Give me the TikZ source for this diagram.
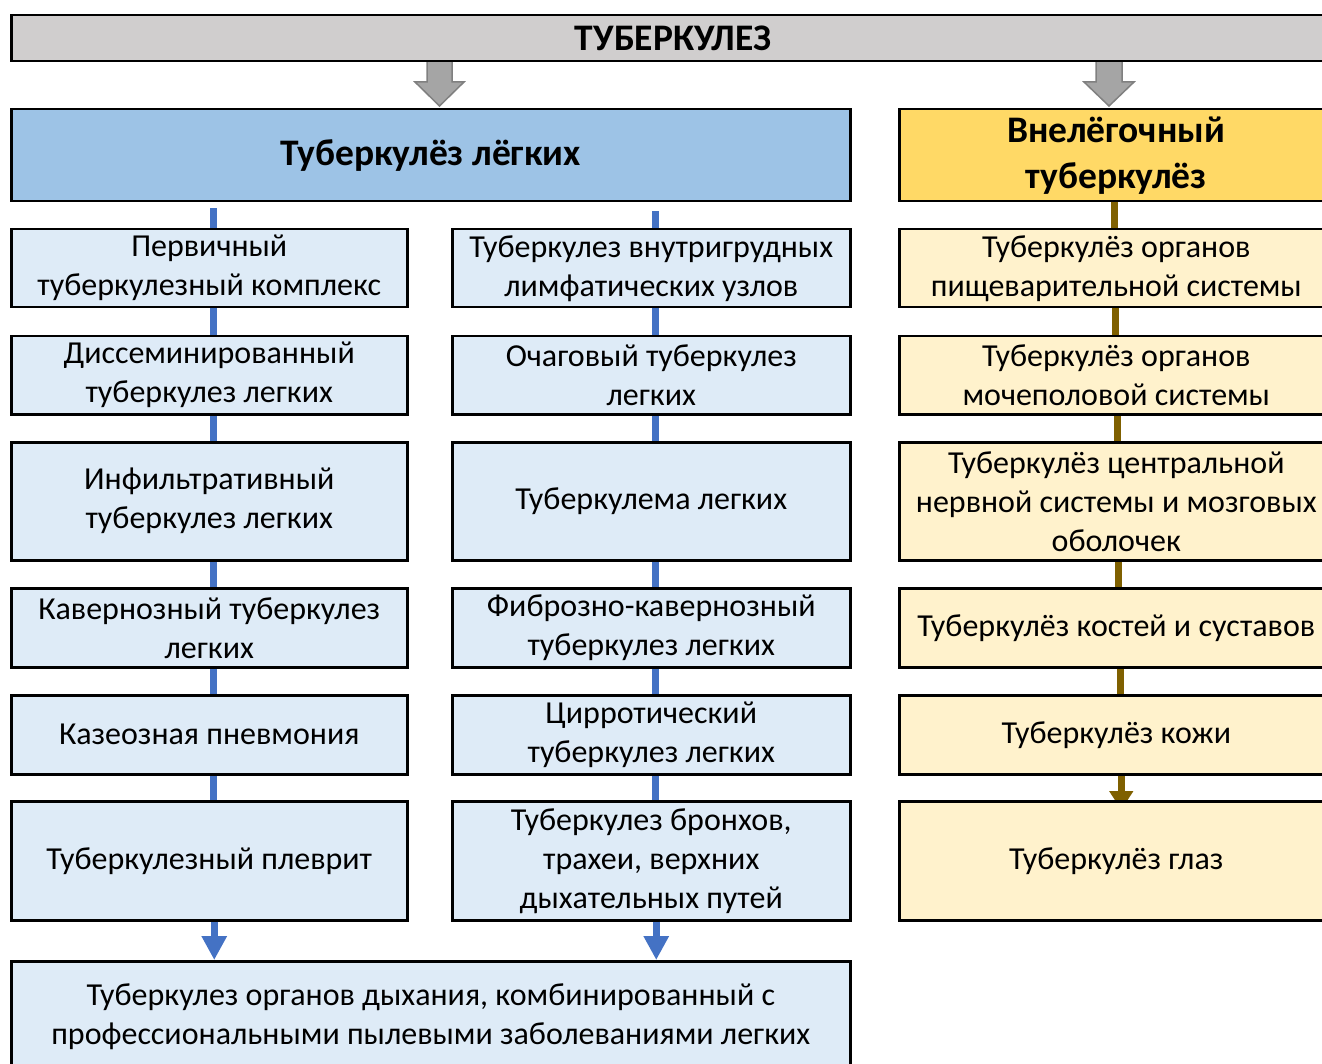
\documentclass[tikz,border=0pt]{standalone}
\usepackage{fontspec}
\setmainfont{Carlito}
\usepackage{tikz}
\usetikzlibrary{arrows.meta, positioning, backgrounds, calc}
\definecolor{titlegray}{HTML}{D0CECE}
\definecolor{lungblue}{HTML}{9DC3E6}
\definecolor{lungpale}{HTML}{DEEBF7}
\definecolor{extragold}{HTML}{FFD966}
\definecolor{extrapale}{HTML}{FFF2CC}
\definecolor{linkblue}{HTML}{4472C4}
\definecolor{linkbrown}{HTML}{7F6000}
\definecolor{arrowgray}{HTML}{A5A5A5}
\definecolor{arrowedge}{HTML}{808080}
\tikzset{
  basebox/.style={
    rectangle, anchor=north west, inner sep=0pt,
    align=center, draw=black, line width=2.5pt,
    font=\fontsize{32}{39}\selectfont
  },
  titlebox/.style={
    basebox, fill=titlegray,
    minimum width=1324pt, minimum height=46pt,
    font=\bfseries\fontsize{37.5}{39}\selectfont
  },
  lungbox/.style={
    basebox, fill=lungblue,
    minimum width=839pt, minimum height=92pt,
    font=\bfseries\fontsize{37.5}{46}\selectfont
  },
  extrabox/.style={
    basebox, fill=extragold,
    minimum width=434pt, minimum height=92pt,
    font=\bfseries\fontsize{37.5}{46}\selectfont
  },
  leftbox/.style={basebox, fill=lungpale, minimum width=396pt},
  midbox/.style={basebox, fill=lungpale, minimum width=398pt},
  rightbox/.style={basebox, fill=extrapale, minimum width=434pt},
  bluelink/.style={
    line width=7pt, color=linkblue
  },
  bluearrow/.style={
    -{Triangle[width=24pt, length=24pt]}, line width=7pt, color=linkblue
  },
  brownlink/.style={
    line width=7pt, color=linkbrown
  },
  brownarrow/.style={
    -{Triangle[width=23pt, length=19pt]}, line width=7pt, color=linkbrown
  },
  blockarrow/.style={
    fill=arrowgray, draw=arrowedge, line width=1.5pt, line join=miter
  }
}

\begin{document}
\begin{tikzpicture}[x=1pt, y=-1pt]
  \useasboundingbox (0,0) rectangle (1322,1064);
  \clip (0,0) rectangle (1322,1064);

  % ── Block arrows under the title ──────────────────────────────────────
  \draw[blockarrow] (427,61) -- (452,61) -- (452,82) -- (464,82) -- (439.5,106)
        -- (415,82) -- (427,82) -- cycle;
  \draw[blockarrow] (1096,61) -- (1122,61) -- (1122,82) -- (1134,82) -- (1109,106)
        -- (1084,82) -- (1096,82) -- cycle;

  % ── Title ─────────────────────────────────────────────────────────────
  \node[titlebox] (title) at (10,14) {ТУБЕРКУЛЕЗ};

  % ── Two groups ────────────────────────────────────────────────────────
  \node[lungbox]  (lungs) at (10,108)  {Туберкулёз лёгких};
  \node[extrabox] (extra) at (898,108) {Внелёгочный\\туберкулёз};

  % ── Left column ───────────────────────────────────────────────────────
  \node[leftbox, minimum height=78pt]  (l1) at (10,228) {Первичный\\туберкулезный комплекс};
  \node[leftbox, minimum height=78pt]  (l2) at (10,335) {Диссеминированный\\туберкулез легких};
  \node[leftbox, minimum height=118pt] (l3) at (10,441) {Инфильтративный\\туберкулез легких};
  \node[leftbox, minimum height=79pt]  (l4) at (10,587) {Кавернозный туберкулез\\легких};
  \node[leftbox, minimum height=79pt]  (l5) at (10,694) {Казеозная пневмония};
  \node[leftbox, minimum height=119pt] (l6) at (10,800) {Туберкулезный плеврит};

  % ── Middle column ─────────────────────────────────────────────────────
  \node[midbox, minimum height=78pt]  (m1) at (451,228) {Туберкулез внутригрудных\\лимфатических узлов};
  \node[midbox, minimum height=78pt]  (m2) at (451,335) {Очаговый туберкулез\\легких};
  \node[midbox, minimum height=118pt] (m3) at (451,441) {Туберкулема легких};
  \node[midbox, minimum height=79pt]  (m4) at (451,587) {Фиброзно-кавернозный\\туберкулез легких};
  \node[midbox, minimum height=79pt]  (m5) at (451,694) {Цирротический\\туберкулез легких};
  \node[midbox, minimum height=119pt] (m6) at (451,800) {Туберкулез бронхов,\\трахеи, верхних\\дыхательных путей};

  % ── Right column ──────────────────────────────────────────────────────
  \node[rightbox, minimum height=78pt]  (r1) at (898,228) {Туберкулёз органов\\пищеварительной системы};
  \node[rightbox, minimum height=78pt]  (r2) at (898,335) {Туберкулёз органов\\мочеполовой системы};
  \node[rightbox, minimum height=118pt] (r3) at (898,441) {Туберкулёз центральной\\нервной системы и мозговых\\оболочек};
  \node[rightbox, minimum height=79pt]  (r4) at (898,587) {Туберкулёз костей и суставов};
  \node[rightbox, minimum height=79pt]  (r5) at (898,694) {Туберкулёз кожи};
  \node[rightbox, minimum height=119pt] (r6) at (898,800) {Туберкулёз глаз};

  % ── Bottom ────────────────────────────────────────────────────────────
  \node[basebox, fill=lungpale, minimum width=839pt, minimum height=110pt] (combo) at (10,960)
        {Туберкулез органов дыхания, комбинированный с\\профессиональными пылевыми заболеваниями легких};

  % links — left
  \begin{scope}[on background layer]
    \draw[bluelink, shorten <=6pt] ([xshift=4pt]l1.north |- lungs.south) -- ([xshift=4pt]l1.north);
    \draw[bluelink] ([xshift=4pt]l1.south) -- ([xshift=4pt]l2.north);
    \draw[bluelink] ([xshift=4pt]l2.south) -- ([xshift=4pt]l3.north);
    \draw[bluelink] ([xshift=4pt]l3.south) -- ([xshift=4pt]l4.north);
    \draw[bluelink] ([xshift=4pt]l4.south) -- ([xshift=4pt]l5.north);
    \draw[bluelink] ([xshift=4pt]l5.south) -- ([xshift=4pt]l6.north);
  \end{scope}
  \draw[bluearrow] ([xshift=5pt]l6.south) -- ([xshift=5pt]l6.south |- combo.north);

  % links — middle
  \begin{scope}[on background layer]
    \draw[bluelink, shorten <=9pt] ([xshift=4pt]m1.north |- lungs.south) -- ([xshift=4pt]m1.north);
    \draw[bluelink] ([xshift=4pt]m1.south) -- ([xshift=4pt]m2.north);
    \draw[bluelink] ([xshift=4pt]m2.south) -- ([xshift=4pt]m3.north);
    \draw[bluelink] ([xshift=4pt]m3.south) -- ([xshift=4pt]m4.north);
    \draw[bluelink] ([xshift=4pt]m4.south) -- ([xshift=4pt]m5.north);
    \draw[bluelink] ([xshift=4pt]m5.south) -- ([xshift=4pt]m6.north);
  \end{scope}
  \draw[bluearrow] ([xshift=5pt]m6.south) -- ([xshift=5pt]m6.south |- combo.north);

  % links — right
  \begin{scope}[on background layer]
    \draw[brownlink] ([xshift=-2pt]extra.south) -- ([xshift=-2pt]r1.north);
    \draw[brownlink] ([xshift=-1pt]r1.south) -- ([xshift=-1pt]r2.north);
    \draw[brownlink] ([xshift=1pt]r2.south) -- ([xshift=1pt]r3.north);
    \draw[brownlink] ([xshift=2pt]r3.south) -- ([xshift=2pt]r4.north);
    \draw[brownlink] ([xshift=4pt]r4.south) -- ([xshift=4pt]r5.north);
    \draw[brownarrow] ([xshift=5pt]r5.south) -- ([xshift=5pt,yshift=-10pt]r6.north);
  \end{scope}

\end{tikzpicture}
\end{document}
